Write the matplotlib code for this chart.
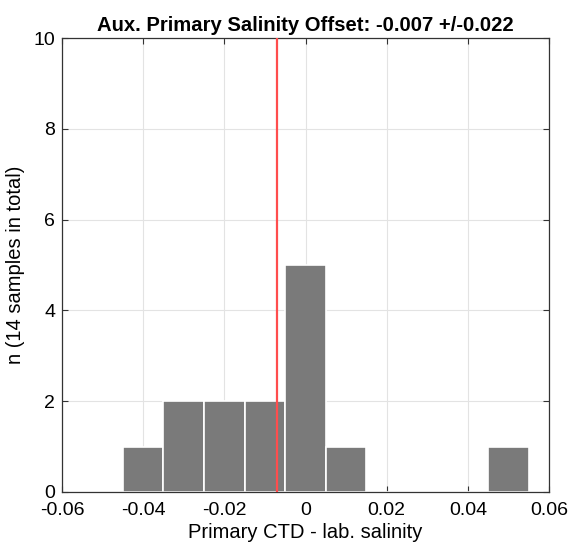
import numpy as np
import matplotlib
matplotlib.use("Agg")
import matplotlib.pyplot as plt

plt.rcParams['font.family'] = ['Liberation Sans', 'DejaVu Sans']

# histogram bins (width 0.01) and counts
bin_edges = [-0.045, -0.035, -0.025, -0.015, -0.005, 0.005, 0.015,
             0.025, 0.035, 0.045, 0.055]
counts = [1, 2, 2, 2, 5, 1, 0, 0, 0, 1]
mean_offset = -0.007
std_offset = 0.022
n_total = 14

fig = plt.figure(figsize=(5.71, 5.52), dpi=100)
ax = fig.add_axes([0.1086, 0.1087, 0.8529, 0.8223])

lefts = np.array(bin_edges[:-1])
widths = np.diff(bin_edges)
ax.bar(lefts, counts, width=widths, align='edge', color='#7a7a7a',
       edgecolor='white', linewidth=1.2, zorder=2)

ax.axvline(mean_offset, color='#ff4d4d', linewidth=1.6, zorder=3)

ax.set_xlim(-0.06, 0.06)
ax.set_ylim(0, 10)
ax.set_xticks([-0.06, -0.04, -0.02, 0, 0.02, 0.04, 0.06])
ax.set_xticklabels(['-0.06', '-0.04', '-0.02', '0', '0.02', '0.04', '0.06'])
ax.set_yticks([0, 2, 4, 6, 8, 10])

ax.grid(True, color='#e3e3e3', linewidth=0.8, zorder=0)
ax.set_axisbelow(True)
ax.tick_params(direction='in', top=True, right=True, length=4,
               width=0.8, color='#333333', labelsize=14)
ax.tick_params(axis='x', pad=7)
ax.tick_params(axis='y', pad=5)
for s in ax.spines.values():
    s.set_color('#333333')
    s.set_linewidth(0.9)

ax.set_xlabel('Primary CTD - lab. salinity', fontsize=14.5, labelpad=3)
ax.set_ylabel('n (%d samples in total)' % n_total, fontsize=14.5, labelpad=6)
ax.set_title('Aux. Primary Salinity Offset: %.3f +/-%.3f' % (mean_offset, std_offset),
             fontsize=14.6, fontweight='bold', pad=5)

fig.savefig('out.png', dpi=100)
